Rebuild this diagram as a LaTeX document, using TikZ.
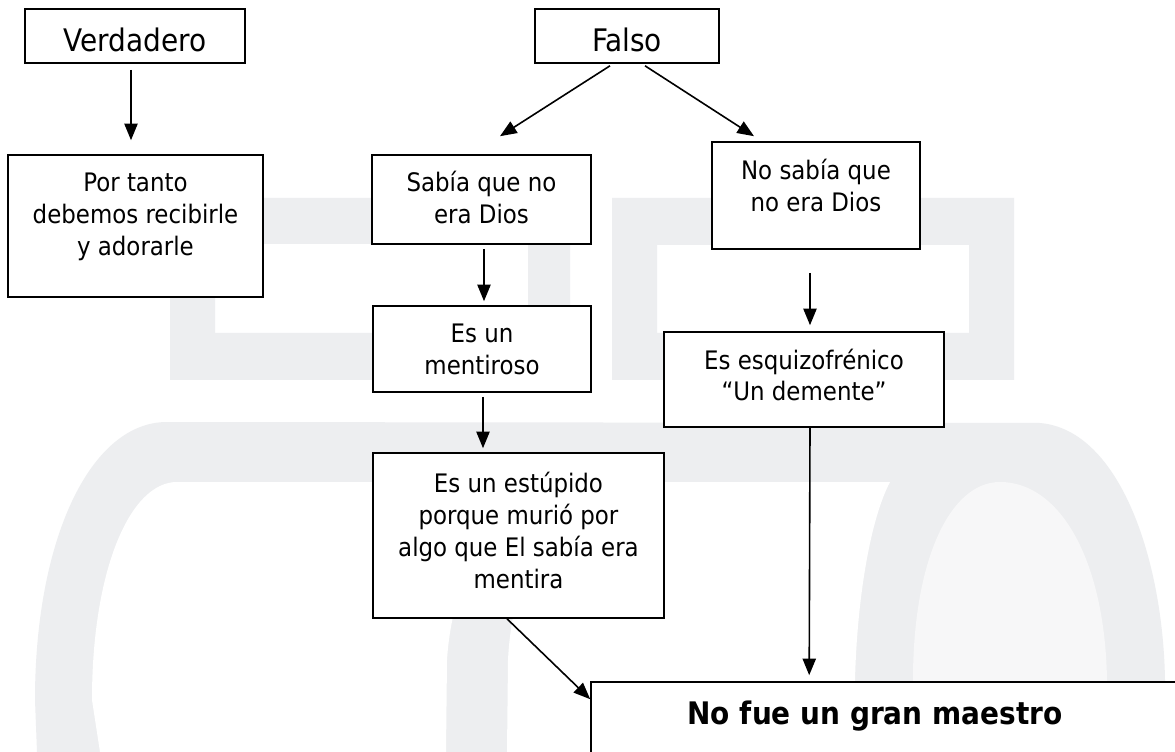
\documentclass[tikz,border=0pt]{standalone}
\usepackage{fontspec}
\setmainfont{DejaVu Sans Condensed}
\usetikzlibrary{arrows.meta,fit,calc}
\definecolor{wm}{HTML}{EDEEF0}
\definecolor{wmlight}{HTML}{F7F7F8}
\newcommand\bodyf{\fontsize{19.1pt}{24pt}\selectfont}
\newcommand\titlef{\fontsize{23.3pt}{28pt}\selectfont}
\newcommand\boldf{\fontsize{23.3pt}{28pt}\selectfont\bfseries}
\newcommand\mlines[1]{\parbox[t]{250pt}{\centering #1}}
\begin{document}
\begin{tikzpicture}[x=0.75pt,y=-0.75pt,
  box/.style={draw=black, line width=1.2pt, fill=white, inner sep=0pt},
  txt/.style={inner sep=0pt, anchor=base, font=\bodyf},
  arr/.style={-{Triangle[length=12.5pt,width=10pt]}, line width=1.2pt}]
\useasboundingbox (0,0) rectangle (1175,752);
\clip (0,0) rectangle (1175,752);
\fill[white] (0,0) rectangle (1175,752);
% watermark
\fill[wm, even odd rule] (170,198) rectangle (570,380) (215,244) rectangle (528,333);
\fill[wm, even odd rule] (612,198) rectangle (1014,380) (657,245) rectangle (969,333);
\fill[wm] (37,752) -- (35,700) .. controls (35,540) and (90,422) .. (167,422)
  -- (1040,423) .. controls (1120,430) and (1163,560) .. (1165,680) -- (1165,752) -- cycle;
\fill[white] (100,752) -- (92,700) .. controls (92,570) and (130,482) .. (177,482)
  -- (560,482) .. controls (490,500) and (452,580) .. (447,660) -- (446,752) -- cycle;
\fill[white] (507,752) -- (508,660) .. controls (512,580) and (545,500) .. (600,482)
  -- (890,482) .. controls (870,520) and (857,600) .. (855,680) -- (854,752) -- cycle;
\fill[wmlight] (913,752) -- (913,680) .. controls (913,560) and (950,482) .. (1000,482)
  .. controls (1060,482) and (1105,560) .. (1107,680) -- (1108,752) -- cycle;
% boxes
\node[box, fit={(25,9) (245,63)}] (V) {};
\node[box, fit={(535,9) (719,63)}] (F) {};
\node[box, fit={(8,155) (263,297)}] (P) {};
\node[box, fit={(372,155) (591,244)}] (S) {};
\node[box, fit={(712,142) (920,249)}] (N) {};
\node[box, fit={(373,306) (591,392)}] (M) {};
\node[box, fit={(664,332) (944,427)}] (E) {};
\node[box, fit={(373,453) (664,618)}] (U) {};
\node[box, fit={(591,682) (1190,800)}] (G) {};
% texts
\node[txt, font=\titlef] (tV) at (135,52) {Verdadero};
\node[txt, font=\titlef] (tF) at (627,52) {Falso};
\node[txt] (tP) at (135.5,192) {\mlines{Por tanto\\debemos recibirle\\y adorarle}};
\node[txt] (tS) at (481.5,192) {\mlines{Sabía que no\\era Dios}};
\node[txt] (tN) at (816,180) {\mlines{No sabía que\\no era Dios}};
\node[txt] (tM) at (482,343) {\mlines{Es un\\mentiroso}};
\node[txt] (tE) at (804,369) {\mlines{Es esquizofrénico\\“Un demente”}};
\node[txt] (tU) at (518.5,492) {\mlines{Es un estúpido\\porque murió por\\algo que El sabía era\\mentira}};
\node[txt, font=\boldf] (tG) at (875,724) {No fue un gran maestro};
% arrows
\draw[arr] ($(V.south)+(-4,6)$) -- ($(P.north)+(-4.5,-14)$);
\draw[arr] ($(F.south)+(-17,2)$) -- ($(S.north)+(18.5,-18)$);
\draw[arr] ($(F.south)+(18,2)$) -- ($(N.north)+(-62,-5)$);
\draw[arr] ($(S.south)+(2.5,4)$) -- ($(M.north)+(2,-4)$);
\draw[arr] ($(N.south)+(-6,23)$) -- ($(E.north)+(6,-6)$);
\draw[arr] ($(M.south)+(1,4)$) -- ($(U.north)+(-35.5,-4)$);
\draw[arr] ($(U.south)+(-11.5,0)$) -- ($(G.north west)+(0,18)$);
\draw[arr] ($(E.south)+(6,0)$) -- ($(G.north west)+(219,-6)$);
\end{tikzpicture}
\end{document}
